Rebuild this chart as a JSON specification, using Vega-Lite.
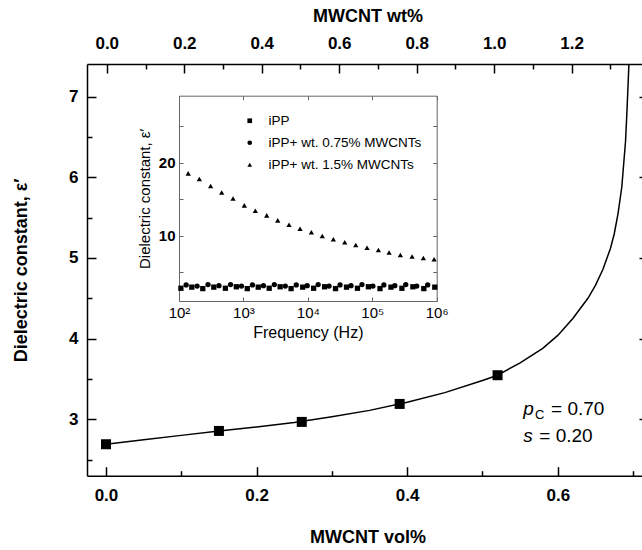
{
  "$schema": "https://vega.github.io/schema/vega-lite/v6.json",
  "width": 555,
  "height": 411.7,
  "autosize": {"type": "none"},
  "padding": {"left": 87, "top": 64, "right": 0, "bottom": 74.3},
  "background": "white",
  "config": {
    "font": "Liberation Sans",
    "view": {"stroke": null},
    "axis": {
      "grid": false,
      "domainColor": "black",
      "domainWidth": 1.5,
      "tickColor": "black",
      "tickWidth": 1.5,
      "labelColor": "black",
      "titleColor": "black",
      "labelFontSize": 17,
      "labelFontWeight": "bold",
      "titleFontSize": 18,
      "titleFontWeight": "bold",
      "labelFlush": false,
      "labelOverlap": false
    }
  },
  "datasets": {
    "curve": [
      {"vol": 0.0, "eps": 2.69}, {"vol": 0.05, "eps": 2.745}, {"vol": 0.1, "eps": 2.8},
      {"vol": 0.15, "eps": 2.855}, {"vol": 0.2, "eps": 2.905}, {"vol": 0.25, "eps": 2.96},
      {"vol": 0.3, "eps": 3.03}, {"vol": 0.35, "eps": 3.11}, {"vol": 0.4, "eps": 3.21},
      {"vol": 0.45, "eps": 3.33}, {"vol": 0.5, "eps": 3.48}, {"vol": 0.52, "eps": 3.546},
      {"vol": 0.55, "eps": 3.7}, {"vol": 0.58, "eps": 3.88}, {"vol": 0.6, "eps": 4.04},
      {"vol": 0.62, "eps": 4.25}, {"vol": 0.64, "eps": 4.5}, {"vol": 0.65, "eps": 4.66},
      {"vol": 0.66, "eps": 4.86}, {"vol": 0.67, "eps": 5.12}, {"vol": 0.675, "eps": 5.3},
      {"vol": 0.68, "eps": 5.55}, {"vol": 0.685, "eps": 5.88}, {"vol": 0.69, "eps": 6.45},
      {"vol": 0.692, "eps": 6.85}, {"vol": 0.6945, "eps": 7.41}
    ],
    "main": [
      {"vol": 0.0, "eps": 2.69}, {"vol": 0.15, "eps": 2.855}, {"vol": 0.26, "eps": 2.967},
      {"vol": 0.39, "eps": 3.19}, {"vol": 0.52, "eps": 3.546}
    ],
    "italic": [
      {"vol": 0.5542, "eps": 3.053, "t": "p"},
      {"vol": 0.5542, "eps": 2.722, "t": "s"}
    ],
    "sub": [
      {"vol": 0.5697, "eps": 3.004, "t": "C"}
    ],
    "regular": [
      {"vol": 0.591, "eps": 3.053, "t": "= 0.70"},
      {"vol": 0.5754, "eps": 2.722, "t": "= 0.20"}
    ],
    "inset": [
      {"series": "iPP", "freq": 107, "eps": 2.8}, {"series": "iPP", "freq": 158, "eps": 2.95},
      {"series": "iPP", "freq": 234, "eps": 2.75}, {"series": "iPP", "freq": 347, "eps": 2.95},
      {"series": "iPP", "freq": 525, "eps": 2.8}, {"series": "iPP", "freq": 776, "eps": 3.0},
      {"series": "iPP", "freq": 1148, "eps": 2.75}, {"series": "iPP", "freq": 1698, "eps": 2.95},
      {"series": "iPP", "freq": 2512, "eps": 2.8}, {"series": "iPP", "freq": 3715, "eps": 3.0},
      {"series": "iPP", "freq": 5495, "eps": 2.75}, {"series": "iPP", "freq": 8318, "eps": 2.95},
      {"series": "iPP", "freq": 12300, "eps": 2.8}, {"series": "iPP", "freq": 18200, "eps": 3.0},
      {"series": "iPP", "freq": 26900, "eps": 2.75}, {"series": "iPP", "freq": 39800, "eps": 2.95},
      {"series": "iPP", "freq": 58900, "eps": 2.8}, {"series": "iPP", "freq": 87100, "eps": 3.0},
      {"series": "iPP", "freq": 131800, "eps": 2.75}, {"series": "iPP", "freq": 195000, "eps": 2.95},
      {"series": "iPP", "freq": 288400, "eps": 2.8}, {"series": "iPP", "freq": 426600, "eps": 3.0},
      {"series": "iPP", "freq": 631000, "eps": 2.75}, {"series": "iPP", "freq": 933300, "eps": 2.95},
      {"series": "iPP+ wt. 0.75% MWCNTs", "freq": 129, "eps": 3.25}, {"series": "iPP+ wt. 0.75% MWCNTs", "freq": 191, "eps": 3.1},
      {"series": "iPP+ wt. 0.75% MWCNTs", "freq": 282, "eps": 3.3}, {"series": "iPP+ wt. 0.75% MWCNTs", "freq": 417, "eps": 3.15},
      {"series": "iPP+ wt. 0.75% MWCNTs", "freq": 631, "eps": 3.3}, {"series": "iPP+ wt. 0.75% MWCNTs", "freq": 933, "eps": 3.1},
      {"series": "iPP+ wt. 0.75% MWCNTs", "freq": 1380, "eps": 3.25}, {"series": "iPP+ wt. 0.75% MWCNTs", "freq": 2042, "eps": 3.15},
      {"series": "iPP+ wt. 0.75% MWCNTs", "freq": 3020, "eps": 3.3}, {"series": "iPP+ wt. 0.75% MWCNTs", "freq": 4467, "eps": 3.1},
      {"series": "iPP+ wt. 0.75% MWCNTs", "freq": 6607, "eps": 3.25}, {"series": "iPP+ wt. 0.75% MWCNTs", "freq": 9772, "eps": 3.15},
      {"series": "iPP+ wt. 0.75% MWCNTs", "freq": 14450, "eps": 3.3}, {"series": "iPP+ wt. 0.75% MWCNTs", "freq": 21380, "eps": 3.1},
      {"series": "iPP+ wt. 0.75% MWCNTs", "freq": 31620, "eps": 3.25}, {"series": "iPP+ wt. 0.75% MWCNTs", "freq": 46770, "eps": 3.15},
      {"series": "iPP+ wt. 0.75% MWCNTs", "freq": 69180, "eps": 3.3}, {"series": "iPP+ wt. 0.75% MWCNTs", "freq": 102300, "eps": 3.1},
      {"series": "iPP+ wt. 0.75% MWCNTs", "freq": 151400, "eps": 3.25}, {"series": "iPP+ wt. 0.75% MWCNTs", "freq": 223900, "eps": 3.15},
      {"series": "iPP+ wt. 0.75% MWCNTs", "freq": 331100, "eps": 3.3}, {"series": "iPP+ wt. 0.75% MWCNTs", "freq": 489800, "eps": 3.1},
      {"series": "iPP+ wt. 0.75% MWCNTs", "freq": 724400, "eps": 3.25},
      {"series": "iPP+ wt. 1.5% MWCNTs", "freq": 139, "eps": 18.55}, {"series": "iPP+ wt. 1.5% MWCNTs", "freq": 207, "eps": 17.77},
      {"series": "iPP+ wt. 1.5% MWCNTs", "freq": 310, "eps": 16.81}, {"series": "iPP+ wt. 1.5% MWCNTs", "freq": 460, "eps": 15.92},
      {"series": "iPP+ wt. 1.5% MWCNTs", "freq": 690, "eps": 15.1}, {"series": "iPP+ wt. 1.5% MWCNTs", "freq": 1033, "eps": 14.16},
      {"series": "iPP+ wt. 1.5% MWCNTs", "freq": 1531, "eps": 13.42}, {"series": "iPP+ wt. 1.5% MWCNTs", "freq": 2301, "eps": 12.79},
      {"series": "iPP+ wt. 1.5% MWCNTs", "freq": 3412, "eps": 12.11}, {"series": "iPP+ wt. 1.5% MWCNTs", "freq": 5105, "eps": 11.51},
      {"series": "iPP+ wt. 1.5% MWCNTs", "freq": 7568, "eps": 10.96}, {"series": "iPP+ wt. 1.5% MWCNTs", "freq": 11350, "eps": 10.47},
      {"series": "iPP+ wt. 1.5% MWCNTs", "freq": 16750, "eps": 9.96}, {"series": "iPP+ wt. 1.5% MWCNTs", "freq": 24890, "eps": 9.51},
      {"series": "iPP+ wt. 1.5% MWCNTs", "freq": 37410, "eps": 9.1}, {"series": "iPP+ wt. 1.5% MWCNTs", "freq": 55460, "eps": 8.73},
      {"series": "iPP+ wt. 1.5% MWCNTs", "freq": 82990, "eps": 8.36}, {"series": "iPP+ wt. 1.5% MWCNTs", "freq": 124500, "eps": 8.04},
      {"series": "iPP+ wt. 1.5% MWCNTs", "freq": 182400, "eps": 7.7}, {"series": "iPP+ wt. 1.5% MWCNTs", "freq": 272900, "eps": 7.36},
      {"series": "iPP+ wt. 1.5% MWCNTs", "freq": 415000, "eps": 7.15}, {"series": "iPP+ wt. 1.5% MWCNTs", "freq": 620900, "eps": 6.95},
      {"series": "iPP+ wt. 1.5% MWCNTs", "freq": 912000, "eps": 6.77}
    ]
  },
  "layer": [
    {
      "data": {"name": "curve"},
      "mark": {"type": "line", "color": "black", "strokeWidth": 1.5, "clip": true},
      "encoding": {
        "x": {"field": "vol", "type": "quantitative",
          "scale": {"domain": [-0.0252, 0.7198], "range": [0, 561], "nice": false, "zero": false},
          "axis": {"orient": "bottom", "values": [0, 0.2, 0.4, 0.6], "format": ".1f", "tickSize": -9, "labelPadding": 21, "title": "MWCNT vol%", "titlePadding": 25}},
        "y": {"field": "eps", "type": "quantitative",
          "scale": {"domain": [2.3, 7.405], "nice": false, "zero": false},
          "axis": {"orient": "left", "values": [3, 4, 5, 6, 7], "format": "d", "tickSize": -9, "labelPadding": 18, "title": "Dielectric constant, ε′", "titlePadding": 38}}
      }
    },
    {
      "data": {"name": "main"},
      "mark": {"type": "square", "color": "black", "size": 100, "filled": true, "opacity": 1},
      "encoding": {
        "x": {"field": "vol", "type": "quantitative",
          "scale": {"domain": [-0.0252, 0.7198], "range": [0, 561], "nice": false, "zero": false},
          "axis": {"orient": "bottom", "values": [0.1, 0.3, 0.5, 0.7], "labels": false, "domain": false, "tickSize": -5, "title": null}},
        "y": {"field": "eps", "type": "quantitative",
          "scale": {"domain": [2.3, 7.405], "nice": false, "zero": false},
          "axis": {"orient": "left", "values": [2.5, 3.5, 4.5, 5.5, 6.5], "labels": false, "domain": false, "tickSize": -5, "title": null}}
      }
    },
    {
      "data": {"name": "italic"},
      "mark": {"type": "text", "align": "left", "baseline": "alphabetic", "fontSize": 19, "fontStyle": "italic", "font": "Liberation Sans", "color": "black"},
      "encoding": {
        "text": {"field": "t"},
        "x": {"field": "vol", "type": "quantitative",
          "scale": {"domain": [-0.0252, 0.7198], "range": [0, 561], "nice": false, "zero": false}, "axis": null},
        "y": {"field": "eps", "type": "quantitative",
          "scale": {"domain": [2.3, 7.405], "nice": false, "zero": false},
          "axis": {"orient": "right", "offset": 6, "values": [3, 4, 5, 6, 7], "labels": false, "tickSize": -9, "title": null}}
      }
    },
    {
      "data": {"name": "sub"},
      "mark": {"type": "text", "align": "left", "baseline": "alphabetic", "fontSize": 13, "font": "Liberation Sans", "color": "black"},
      "encoding": {
        "text": {"field": "t"},
        "x": {"field": "vol", "type": "quantitative",
          "scale": {"domain": [-0.0252, 0.7198], "range": [0, 561], "nice": false, "zero": false}, "axis": null},
        "y": {"field": "eps", "type": "quantitative",
          "scale": {"domain": [2.3, 7.405], "nice": false, "zero": false},
          "axis": {"orient": "right", "offset": 6, "values": [2.5, 3.5, 4.5, 5.5, 6.5], "labels": false, "domain": false, "tickSize": -5, "title": null}}
      }
    },
    {
      "data": {"name": "regular"},
      "mark": {"type": "text", "align": "left", "baseline": "alphabetic", "fontSize": 19, "font": "Liberation Sans", "color": "black"},
      "encoding": {
        "text": {"field": "t"},
        "x": {"field": "vol", "type": "quantitative",
          "scale": {"domain": [-0.0252, 0.7198], "range": [0, 561], "nice": false, "zero": false}, "axis": null},
        "y": {"field": "eps", "type": "quantitative",
          "scale": {"domain": [2.3, 7.405], "nice": false, "zero": false}, "axis": null}
      }
    },
    {
      "mark": {"type": "point", "opacity": 0},
      "encoding": {
        "x": {"datum": 0, "type": "quantitative",
          "scale": {"domain": [-0.051, 1.397], "range": [0, 561], "nice": false, "zero": false},
          "axis": {"orient": "top", "values": [0, 0.2, 0.4, 0.6, 0.8, 1.0, 1.2], "format": ".1f", "tickSize": -9, "labelPadding": 21, "title": "MWCNT wt%", "titlePadding": 9}}
      }
    },
    {
      "mark": {"type": "point", "opacity": 0},
      "encoding": {
        "x": {"datum": 0, "type": "quantitative",
          "scale": {"domain": [-0.051, 1.397], "range": [0, 561], "nice": false, "zero": false},
          "axis": {"orient": "top", "values": [0.1, 0.3, 0.5, 0.7, 0.9, 1.1, 1.3], "labels": false, "domain": false, "tickSize": -5, "title": null}}
      }
    },
    {
      "data": {"name": "inset"},
      "mark": {"type": "point", "filled": true, "opacity": 1, "size": 28, "color": "black"},
      "encoding": {
        "x": {"field": "freq", "type": "quantitative",
          "scale": {"type": "log", "domain": [100, 1000000], "range": [92, 349.7], "nice": false},
          "axis": {"orient": "bottom", "offset": -174.7, "values": [100, 1000, 10000, 100000, 1000000],
            "labelExpr": "'10' + (datum.value < 500 ? '²' : datum.value < 5000 ? '³' : datum.value < 50000 ? '⁴' : datum.value < 500000 ? '⁵' : '⁶')",
            "tickSize": -4, "labelPadding": 8, "labelFontWeight": "normal", "labelFontSize": 15,
            "domainColor": "#666666", "tickColor": "#666666", "domainWidth": 1, "tickWidth": 1,
            "title": "Frequency (Hz)", "titleFontSize": 16, "titleFontWeight": "normal", "titlePadding": 4}},
        "y": {"field": "eps", "type": "quantitative",
          "scale": {"domain": [1.05, 29.2], "range": [237, 31.7], "nice": false, "zero": false},
          "axis": {"orient": "left", "offset": -92, "values": [5, 10, 15, 20, 25],
            "labelExpr": "datum.value % 10 === 0 ? datum.label : ''",
            "tickSize": -4, "labelPadding": 8, "labelFontSize": 15,
            "domainColor": "#666666", "tickColor": "#666666", "domainWidth": 1, "tickWidth": 1,
            "title": "Dielectric constant, ε′", "titleFontSize": 15, "titleFontWeight": "normal", "titlePadding": 6}},
        "shape": {"field": "series", "type": "nominal",
          "scale": {"domain": ["iPP", "iPP+ wt. 0.75% MWCNTs", "iPP+ wt. 1.5% MWCNTs"], "range": ["square", "circle", "triangle-up"]},
          "legend": {"orient": "none", "legendX": 156, "legendY": 50, "title": null, "padding": 0,
            "symbolFillColor": "black", "symbolStrokeColor": "black", "symbolSize": 22, "symbolStrokeWidth": 0,
            "labelFont": "Liberation Sans", "labelFontSize": 13.5, "labelColor": "black", "labelOffset": 12, "rowPadding": 7}}
      }
    },
    {
      "mark": {"type": "point", "opacity": 0},
      "encoding": {
        "x": {"datum": 1000, "type": "quantitative",
          "scale": {"type": "log", "domain": [100, 1000000], "range": [92, 349.7], "nice": false},
          "axis": {"orient": "top", "offset": -31.7, "values": [100, 1000, 10000, 100000, 1000000], "labels": false, "tickSize": -4,
            "domainColor": "#666666", "tickColor": "#666666", "domainWidth": 1, "tickWidth": 1, "title": null}},
        "y": {"datum": 10, "type": "quantitative",
          "scale": {"domain": [1.05, 29.2], "range": [237, 31.7], "nice": false, "zero": false},
          "axis": {"orient": "right", "offset": -205.3, "values": [5, 10, 15, 20, 25], "labels": false, "tickSize": -4,
            "domainColor": "#666666", "tickColor": "#666666", "domainWidth": 1, "tickWidth": 1, "title": null}}
      }
    }
  ],
  "resolve": {
    "scale": {"x": "independent", "y": "independent", "shape": "independent"},
    "axis": {"x": "independent", "y": "independent"}
  }
}
